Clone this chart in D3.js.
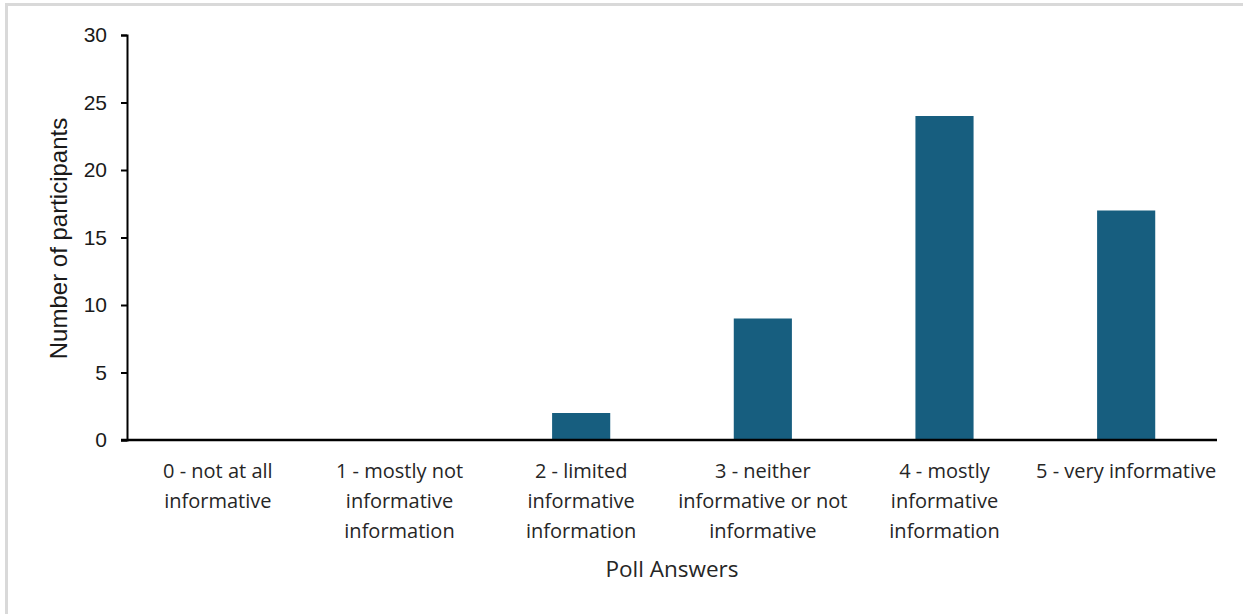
<!DOCTYPE html>
<html>
<head>
<meta charset="utf-8">
<script src="https://cdn.jsdelivr.net/npm/d3@7"></script>
<style>
  html, body { margin: 0; padding: 0; background: #fff; }
  svg { display: block; }
</style>
</head>
<body>
<svg id="chart" width="1243" height="614"></svg>
<script>
// Poll results: how informative participants found the information
const categories = [
  ["0 - not at all", "informative"],
  ["1 - mostly not", "informative", "information"],
  ["2 - limited", "informative", "information"],
  ["3 - neither", "informative or not", "informative"],
  ["4 - mostly", "informative", "information"],
  ["5 - very informative"]
];
const participants = [0, 0, 2, 9, 24, 17];
const yTicks = [0, 5, 10, 15, 20, 25, 30];

const width = 1243, height = 614;
const margin = { top: 35, right: 26, bottom: 174, left: 127 };

const svg = d3.select("#chart");

// Outer frame (only top and left edges fall inside the view)
svg.append("rect")
  .attr("x", 6.5).attr("y", 4.5)
  .attr("width", width + 20).attr("height", height + 20)
  .attr("fill", "#fff")
  .attr("stroke", "#d9d9d9").attr("stroke-width", 3);

const keys = d3.range(categories.length);
const x = d3.scaleBand()
  .domain(keys)
  .range([margin.left, width - margin.right])
  .paddingInner(0.68).paddingOuter(0.34);

const y = d3.scaleLinear()
  .domain([0, 30])
  .range([height - margin.bottom, margin.top]);

// Bars
svg.append("g")
  .selectAll("rect")
  .data(participants)
  .join("rect")
  .attr("x", (d, i) => x(i))
  .attr("y", d => y(d))
  .attr("width", x.bandwidth())
  .attr("height", d => y(0) - y(d))
  .attr("fill", "#175e7f");

// Y axis
const yAxis = svg.append("g")
  .attr("transform", `translate(${margin.left},0)`)
  .call(d3.axisLeft(y).tickValues(yTicks).tickSize(6).tickPadding(14));
yAxis.select(".domain").attr("stroke", "#000").attr("stroke-width", 2);
yAxis.selectAll(".tick line").attr("stroke", "#000").attr("stroke-width", 2);
yAxis.selectAll(".tick text")
  .attr("font-family", "'Liberation Sans', Arial, sans-serif")
  .attr("font-size", 21)
  .attr("fill", "#1a1a1a");

// X axis baseline
svg.append("line")
  .attr("x1", margin.left - 6).attr("x2", width - margin.right)
  .attr("y1", y(0)).attr("y2", y(0))
  .attr("stroke", "#000").attr("stroke-width", 2.5);

// Category labels
const labels = svg.append("g")
  .attr("font-family", "'Open Sans', sans-serif")
  .attr("font-size", 20)
  .attr("fill", "#262626")
  .attr("text-anchor", "middle");
categories.forEach((lines, i) => {
  const t = labels.append("text")
    .attr("x", x(i) + x.bandwidth() / 2)
    .attr("y", y(0) + 38);
  lines.forEach((ln, j) => {
    t.append("tspan")
      .attr("x", x(i) + x.bandwidth() / 2)
      .attr("dy", j === 0 ? 0 : 30)
      .text(ln);
  });
});

// Axis titles
svg.append("text")
  .attr("x", (margin.left + width - margin.right) / 2)
  .attr("y", 577)
  .attr("text-anchor", "middle")
  .attr("font-family", "'Open Sans', sans-serif")
  .attr("font-size", 22.5)
  .attr("fill", "#262626")
  .text("Poll Answers");

svg.append("text")
  .attr("transform", `translate(67,${(margin.top + y(0)) / 2 + 1}) rotate(-90)`)
  .attr("text-anchor", "middle")
  .attr("font-family", "'Liberation Sans', Arial, sans-serif")
  .attr("font-size", 24)
  .attr("fill", "#1a1a1a")
  .text("Number of participants");
</script>
</body>
</html>
